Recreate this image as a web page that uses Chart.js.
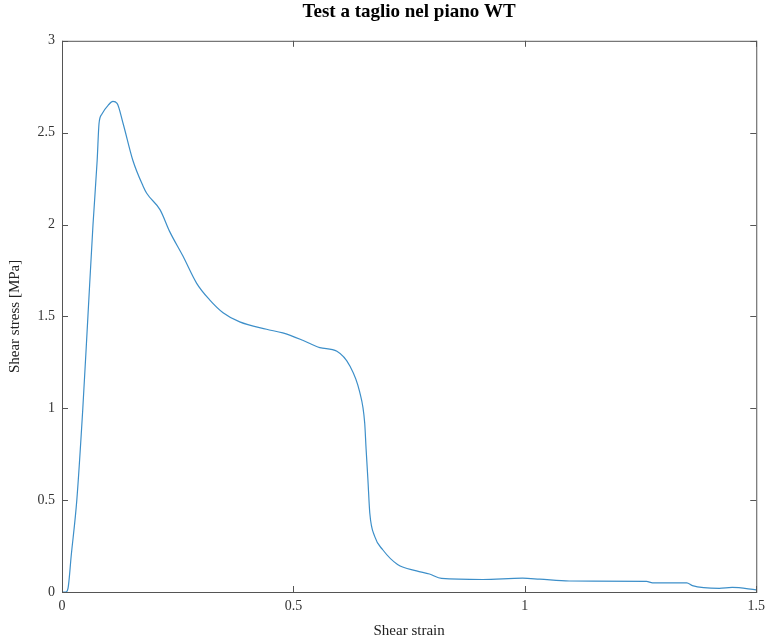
<!DOCTYPE html>
<html lang="it">
<head>
<meta charset="UTF-8">
<title>Test a taglio nel piano WT</title>
<script src="https://cdn.jsdelivr.net/npm/chart.js"></script>
<style>
    body { margin: 0; background: #fff; }
    #box { width: 771px; height: 640px; }
</style>
</head>
<body>
<div id="box"><canvas id="grafico"></canvas></div>
<script>
    // valori
    const deformazione = [0, 0.008, 0.013, 0.02, 0.032, 0.045, 0.056, 0.067, 0.076, 0.08, 0.086, 0.1, 0.11, 0.119, 0.132, 0.153, 0.175, 0.183, 0.212, 0.233, 0.261, 0.291, 0.319, 0.348, 0.384, 0.442, 0.477, 0.52, 0.557, 0.594, 0.622, 0.643, 0.654, 0.657, 0.661, 0.665, 0.676, 0.693, 0.725, 0.766, 0.794, 0.82, 0.909, 0.995, 1.032, 1.096, 1.263, 1.276, 1.35, 1.362, 1.42, 1.448, 1.5];
    const tensione = [0, 0, 0.02, 0.2, 0.5, 1.0, 1.5, 2.0, 2.35, 2.55, 2.60, 2.65, 2.67, 2.66, 2.55, 2.35, 2.21, 2.17, 2.08, 1.96, 1.83, 1.68, 1.59, 1.52, 1.47, 1.43, 1.41, 1.37, 1.33, 1.31, 1.23, 1.09, 0.92, 0.78, 0.61, 0.43, 0.30, 0.23, 0.15, 0.115, 0.098, 0.074, 0.068, 0.075, 0.07, 0.06, 0.058, 0.05, 0.05, 0.035, 0.02, 0.025, 0.012];
    const tickX = [0, 0.5, 1, 1.5];
    const tickY = [0, 0.5, 1, 1.5, 2, 2.5, 3];

    const punti = deformazione.map((x, i) => ({ x: x, y: tensione[i] }));
    const coloreAssi = '#555';

    // cornice e tacche verso l'interno (stile MATLAB)
    const cornice = {
        id: 'cornice',
        afterDatasetsDraw(chart) {
            const ctx = chart.ctx;
            const a = chart.chartArea;
            const sx = chart.scales.x, sy = chart.scales.y;
            ctx.save();
            ctx.strokeStyle = coloreAssi;
            ctx.lineWidth = 1;
            ctx.strokeRect(a.left + 0.5, a.top + 0.5, a.right - a.left, a.bottom - a.top);
            ctx.beginPath();
            tickX.forEach(v => {
                const p = Math.round(sx.getPixelForValue(v)) + 0.5;
                ctx.moveTo(p, a.bottom); ctx.lineTo(p, a.bottom - 6);
                ctx.moveTo(p, a.top); ctx.lineTo(p, a.top + 6);
            });
            tickY.forEach(v => {
                const p = Math.round(sy.getPixelForValue(v)) + 0.5;
                ctx.moveTo(a.left, p); ctx.lineTo(a.left + 6, p);
                ctx.moveTo(a.right, p); ctx.lineTo(a.right - 6, p);
            });
            ctx.stroke();
            ctx.restore();
        }
    };

    new Chart(document.getElementById('grafico'), {
        type: 'line',
        data: {
            datasets: [{
                data: punti,
                borderColor: '#3d8fc9',
                borderWidth: 1.2,
                pointRadius: 0,
                cubicInterpolationMode: 'monotone',
                fill: false
            }]
        },
        plugins: [cornice],
        options: {
            responsive: true,
            maintainAspectRatio: false,
            animation: false,
            layout: { padding: { right: 14, left: 0, top: 0, bottom: 0 } },
            plugins: {
                legend: { display: false },
                tooltip: { enabled: false },
                title: {
                    display: true,
                    fullSize: false,
                    text: 'Test a taglio nel piano WT',
                    color: '#000',
                    font: { family: 'Liberation Serif', size: 19, weight: 'bold' },
                    padding: { top: 1, bottom: 17 }
                }
            },
            scales: {
                x: {
                    type: 'linear',
                    min: 0,
                    max: 1.5,
                    afterFit: s => { s.height = 48; },
                    afterBuildTicks: s => { s.ticks = tickX.map(v => ({ value: v })); },
                    grid: { display: false, drawTicks: false },
                    border: { display: false },
                    ticks: {
                        color: '#333',
                        padding: 6,
                        maxRotation: 0,
                        callback: v => String(v),
                        font: { family: 'Liberation Serif', size: 14 }
                    },
                    title: {
                        display: true,
                        text: 'Shear strain',
                        color: '#222',
                        padding: { top: 0, bottom: 0 },
                        font: { family: 'Liberation Serif', size: 15 }
                    }
                },
                y: {
                    min: 0,
                    max: 3,
                    afterFit: s => { s.width = 62; },
                    afterBuildTicks: s => { s.ticks = tickY.map(v => ({ value: v })); },
                    grid: { display: false, drawTicks: false },
                    border: { display: false },
                    ticks: {
                        color: '#333',
                        padding: 7,
                        callback: v => String(v),
                        font: { family: 'Liberation Serif', size: 14 }
                    },
                    title: {
                        display: true,
                        text: 'Shear stress [MPa]',
                        color: '#222',
                        padding: { top: 6, bottom: 2 },
                        font: { family: 'Liberation Serif', size: 15 }
                    }
                }
            }
        }
    });
</script>
</body>
</html>
